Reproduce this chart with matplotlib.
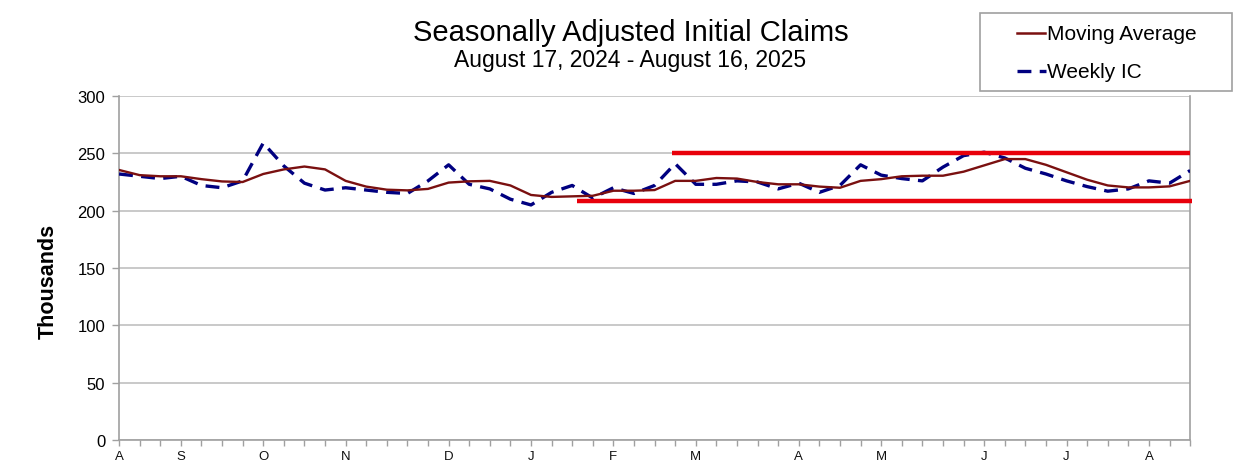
import matplotlib
matplotlib.use("Agg")
import matplotlib.pyplot as plt
from matplotlib.lines import Line2D
from matplotlib.patches import Rectangle

plt.rcParams['font.family'] = ['Liberation Sans', 'DejaVu Sans']
plt.rcParams['lines.scale_dashes'] = False

weeks = list(range(53))
weekly_ic = [232, 230, 228, 230, 222, 220, 226, 259, 239, 224, 218, 220, 218, 216, 215,
             226, 240, 223, 219, 210, 205, 216, 222, 211, 220, 215, 222, 241, 223, 223,
             226, 225, 219, 224, 216, 222, 240, 231, 228, 226, 238, 248, 251, 246, 237,
             232, 226, 221, 217, 219, 226, 224, 235]
moving_avg = [235.5, 231, 230, 230, 227.5, 225.5, 225, 232, 236, 238.5, 236, 226, 221,
              218.3, 217.7, 219, 224.5, 225.6, 226, 222, 213.7, 212, 212.5, 213, 217.4,
              217.4, 218, 226, 226, 228.5, 228, 225, 223, 223, 221, 220, 226, 227.5, 230,
              230.5, 230.5, 234, 239.5, 245, 245, 240, 233.5, 227, 222, 220.3, 220.3,
              221.2, 226]
month_ticks = [0, 3, 7, 11, 16, 20, 24, 28, 33, 37, 42, 46, 50]
month_labels = ['A', 'S', 'O', 'N', 'D', 'J', 'F', 'M', 'A', 'M', 'J', 'J', 'A']
y_ticks = [0, 50, 100, 150, 200, 250, 300]
legend_labels = ['Moving Average', 'Weekly IC']

upper_level = 250
upper_range = (26.86, 52.0)
lower_level = 208.5
lower_range = (22.24, 52.1)

W, H = 1244, 477
fig = plt.figure(figsize=(W / 100, H / 100), dpi=100)
ax = fig.add_axes([0.0957, 0.0755, 0.861, 0.7211])

ax.set_xlim(0, 52)
ax.set_ylim(0, 300)
ax.set_yticks(y_ticks)
ax.set_yticklabels([str(v) for v in y_ticks], fontsize=12)
ax.yaxis.grid(True, color='#c0c0c0', linewidth=1.2)
ax.set_axisbelow(True)

ax.set_xticks(weeks)
ax.set_xticklabels([''] * len(weeks))
for t, lab in zip(month_ticks, month_labels):
    ax.text(t, -9, lab, ha='center', va='top', fontsize=9.5, color='#111111',
            transform=ax.transData)
ax.tick_params(axis='x', direction='out', length=4, color='#a0a0a0', width=1)
ax.tick_params(axis='y', direction='out', length=5, color='#a0a0a0', width=1, pad=5)

for s in ['left', 'bottom', 'right', 'top']:
    ax.spines[s].set_color('#a0a0a0')
    ax.spines[s].set_linewidth(1.2)
ax.spines['top'].set_visible(False)

ax.plot(weeks, weekly_ic, color='#000080', linewidth=2.4, linestyle=(0, (10, 6)),
        zorder=3)
ax.plot(weeks, moving_avg, color='#7a1010', linewidth=1.7, zorder=4)

ax.plot(upper_range, [upper_level, upper_level], color='#e8000b', linewidth=3.2,
        solid_capstyle='butt', clip_on=False, zorder=5)
ax.plot(lower_range, [lower_level, lower_level], color='#e8000b', linewidth=3.2,
        solid_capstyle='butt', clip_on=False, zorder=5)

ax.set_ylabel('Thousands', fontsize=15.5, fontweight='bold')
ax.yaxis.set_label_coords(-0.056, 0.465)

fig.text(631 / W, 1 - 33 / H, 'Seasonally Adjusted Initial Claims', ha='center',
         va='center', fontsize=21)
fig.text(630 / W, 1 - 60 / H, 'August 17, 2024 - August 16, 2025', ha='center',
         va='center', fontsize=16.5)

# legend box (outside the axes, top right)
fig.add_artist(Rectangle((980 / W, 1 - 92 / H), 252 / W, 78 / H, transform=fig.transFigure,
                         facecolor='white', edgecolor='#a0a0a0', linewidth=1.2))
fig.add_artist(Line2D([1017 / W, 1045 / W], [1 - 34 / H, 1 - 34 / H],
                      transform=fig.transFigure, color='#7a1010', linewidth=1.8))
fig.add_artist(Line2D([1017 / W, 1046 / W], [1 - 72 / H, 1 - 72 / H],
                      transform=fig.transFigure, color='#000080', linewidth=2.4,
                      linestyle=(0, (10, 6))))
fig.text(1047 / W, 1 - 34 / H, legend_labels[0], ha='left', va='center', fontsize=15)
fig.text(1047 / W, 1 - 72 / H, legend_labels[1], ha='left', va='center', fontsize=15)

fig.savefig('out.png', dpi=100)
